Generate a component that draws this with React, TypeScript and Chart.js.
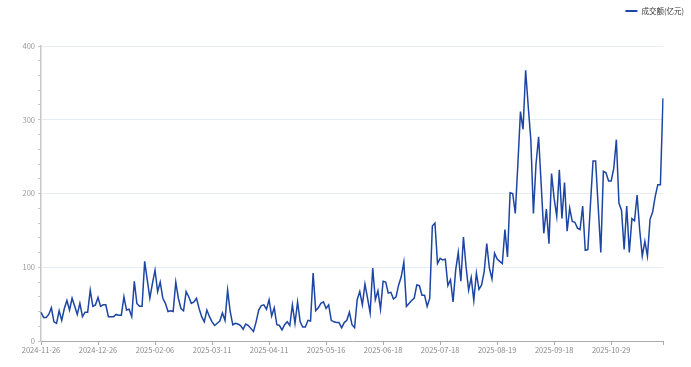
import { useEffect, useRef } from "react";
import { Chart, registerables } from "chart.js";

Chart.register(...registerables);

// ---- data ----
const seriesName = "成交额(亿元)";
const tickLabels = [
  "2024-11-26", "2024-12-26", "2025-02-06", "2025-03-11", "2025-04-11", "2025-05-16",
  "2025-06-18", "2025-07-18", "2025-08-19", "2025-09-18", "2025-10-29",
];
const labelEvery = 22;
const yMax = 400;

// 2024-11-26 .. 2025-01-24
const volumeA = [39, 32, 32, 36, 45, 26, 24, 41, 28, 44, 55, 42, 58, 47, 36, 51, 33, 39, 39, 69, 47, 49, 59, 47, 49, 49, 33, 33, 33, 36, 35, 35, 60, 42, 43, 33, 81, 51, 47, 47, 108, 83, 58, 78, 96, 67, 80, 58, 51, 40, 41, 40, 80, 58, 44, 41, 67, 60, 51, 53, 58];
const volumeB = [44, 33, 26, 42, 33, 26, 21, 24, 27, 38, 28, 69, 40, 22, 24, 23, 21, 16, 23, 21, 17, 13, 26, 42, 48, 49, 43, 56, 34, 45, 22, 21, 15, 22, 26, 21, 49, 24, 53, 26, 19, 19, 28, 27, 92, 41, 45, 51, 53, 44, 49, 28, 26, 25, 25, 18, 25, 28, 39, 22, 18];
const volumeC = [56, 67, 49, 77, 58, 38, 99, 56, 68, 43, 81, 80, 65, 66, 57, 60, 76, 87];
const volumeD = [107, 47, 51, 55, 58, 76, 75, 62, 62, 47, 58, 156, 160, 105, 112, 110, 111, 75, 83, 53, 96, 120, 81, 141, 101, 69, 86, 55, 92, 70, 76, 94, 132, 99, 84, 119, 111, 108, 105, 151, 114, 201, 200, 173, 240, 311, 287, 367];
const volumeE = [318, 273, 173, 240, 277, 212, 146, 179, 132, 227, 193, 169, 232, 166, 215, 149, 180, 162, 161, 153, 151, 183, 123, 124, 185, 244, 244, 182, 120, 230, 228, 217, 217, 234, 273, 187, 177, 124, 183, 120, 166, 163, 198, 151, 115, 135, 115, 165, 175, 196, 212, 212, 329];
const volume = [...volumeA, ...volumeB, ...volumeC, ...volumeD, ...volumeE];

const closedDays = [
  "2025-01-01", "2025-01-28", "2025-01-29", "2025-01-30", "2025-01-31", "2025-02-03", "2025-02-04",
  "2025-04-04", "2025-05-01", "2025-05-02", "2025-05-05", "2025-06-02",
  "2025-10-01", "2025-10-02", "2025-10-03", "2025-10-06", "2025-10-07", "2025-10-08",
];

function buildDates(start: string, count: number): string[] {
  const out: string[] = [];
  const d = new Date(start + "T00:00:00Z");
  while (out.length < count) {
    const wd = d.getUTCDay();
    const s = d.toISOString().slice(0, 10);
    if (wd !== 0 && wd !== 6 && !closedDays.includes(s)) out.push(s);
    d.setUTCDate(d.getUTCDate() + 1);
  }
  return out;
}
const categories = buildDates(tickLabels[0], volume.length);

// ---- style ----
const LINE = "#1c45a4";
const FONT = '"Noto Sans CJK SC", "Noto Sans", sans-serif';

const legendPlugin = {
  id: "topRightLegend",
  afterDraw(chart: any) {
    const ctx = chart.ctx;
    ctx.save();
    ctx.font = `7.5px ${FONT}`;
    const text = chart.data.datasets[0].label;
    const tw = ctx.measureText(text).width;
    const right = chart.width - 7;
    const tx = right - tw;
    const y = 11;
    ctx.strokeStyle = LINE;
    ctx.lineWidth = 2;
    ctx.beginPath();
    ctx.moveTo(tx - 16, y);
    ctx.lineTo(tx - 4, y);
    ctx.stroke();
    ctx.fillStyle = "#333";
    ctx.textBaseline = "middle";
    ctx.textAlign = "left";
    ctx.fillText(text, tx, y);
    ctx.restore();
  },
};

export default function App() {
  const ref = useRef<HTMLCanvasElement | null>(null);

  useEffect(() => {
    if (!ref.current) return;
    const chart = new Chart(ref.current, {
      type: "line",
      data: {
        labels: categories,
        datasets: [
          {
            label: seriesName,
            data: volume,
            borderColor: LINE,
            backgroundColor: LINE,
            borderWidth: 1.5,
            pointRadius: 0,
            tension: 0,
            fill: false,
          },
        ],
      },
      options: {
        responsive: false,
        animation: false,
        devicePixelRatio: 1,
        layout: { padding: { top: 46, right: 28, bottom: 0, left: 0 } },
        plugins: {
          legend: { display: false },
          tooltip: { enabled: false },
        },
        scales: {
          x: {
            type: "category",
            offset: false,
            afterBuildTicks: (scale: any) => {
              scale.ticks = scale.ticks.filter(
                (t: any) => t.value % labelEvery === 0 || t.value === volume.length - 1
              );
            },
            afterFit: (scale: any) => {
              scale.height = 26;
            },
            ticks: {
              autoSkip: false,
              maxRotation: 0,
              minRotation: 0,
              padding: 1,
              color: "#888",
              font: { size: 7.5, family: FONT },
              callback: (value: any) => {
                const v = Number(value);
                return v % labelEvery === 0 ? tickLabels[v / labelEvery] ?? "" : "";
              },
            },
            grid: {
              display: true,
              drawOnChartArea: false,
              drawTicks: true,
              tickLength: 4,
              tickColor: "#aaa",
            },
            border: { display: true, color: "#aaa", width: 1 },
          },
          y: {
            min: 0,
            max: yMax,
            afterFit: (scale: any) => {
              scale.width = 41;
            },
            ticks: {
              stepSize: 20,
              autoSkip: false,
              padding: 3,
              color: "#999",
              font: { size: 7.5, family: FONT },
              callback: (value: any) => (Number(value) % 100 === 0 ? String(value) : ""),
            },
            grid: {
              drawTicks: true,
              tickLength: 3,
              tickColor: "#c8c8c8",
              color: (ctx: any) =>
                ctx.tick && ctx.tick.value % 100 === 0 && ctx.tick.value > 0
                  ? "#E6EBF4"
                  : "rgba(0,0,0,0)",
            },
            border: { display: true, color: "#c8c8c8", width: 1.5 },
          },
        },
      },
      plugins: [legendPlugin],
    });
    return () => chart.destroy();
  }, []);

  return (
    <div style={{ position: "fixed", left: 0, top: 0, width: 691, height: 367, background: "#fff" }}>
      <canvas ref={ref} width={691} height={367} style={{ width: 691, height: 367, display: "block" }} />
    </div>
  );
}
